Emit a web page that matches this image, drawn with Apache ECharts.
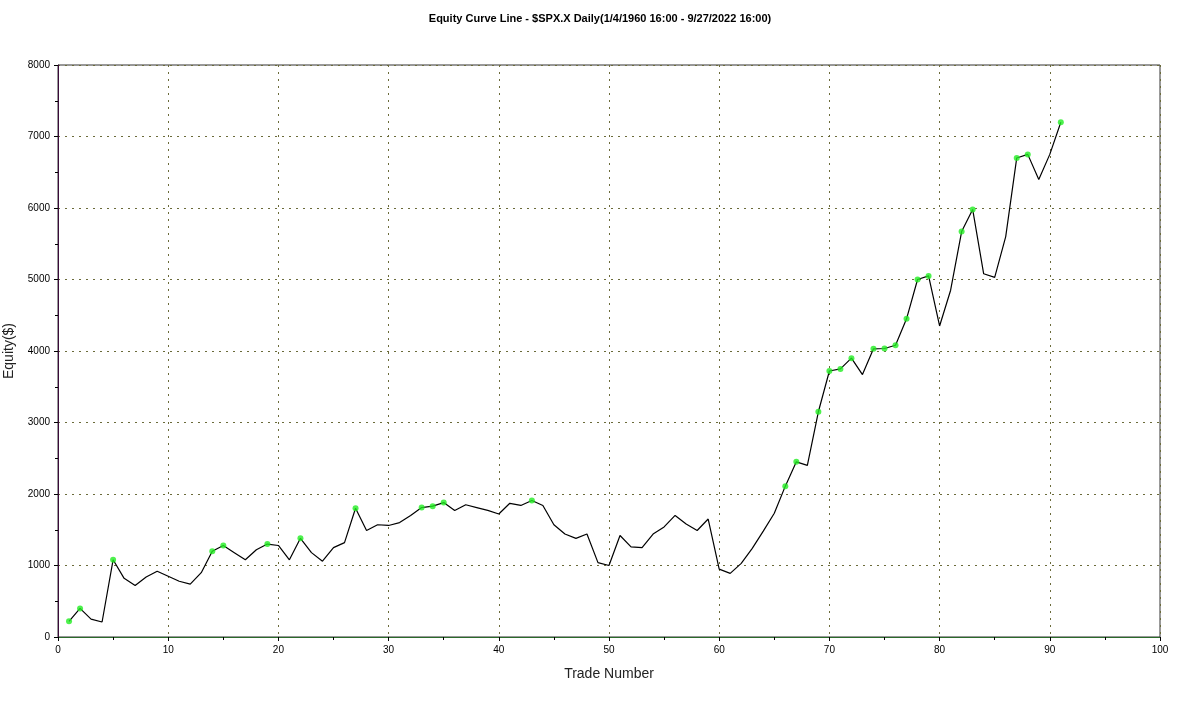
<!DOCTYPE html>
<html lang="en">
<head>
<meta charset="UTF-8">
<title>Equity Curve Line</title>
<script src="https://cdn.jsdelivr.net/npm/echarts@6/dist/echarts.min.js"></script>
<style>
    body{margin:0;background:#fff;}
    #chart{width:1200px;height:704px;}
</style>
</head>
<body>
<div id="chart"></div>
<script>
    // equity after each trade (trade 1..91)
    var equity=[220,400,250,210,1080,820,720,840,920,850,
        780,740,900,1200,1280,1180,1080,1220,1300,1280,
        1080,1380,1180,1060,1250,1320,1800,1490,1570,1560,
        1600,1700,1810,1830,1880,1770,1850,1810,1770,1720,
        1870,1840,1910,1840,1570,1440,1380,1440,1040,1000,
        1420,1260,1250,1440,1540,1700,1580,1490,1650,950,
        890,1030,1240,1480,1730,2110,2450,2400,3150,3720,
        3750,3900,3670,4030,4035,4080,4450,5000,5050,4350,
        4850,5670,5980,5080,5030,5600,6700,6750,6400,6750,
        7200];
    var yTicks=[0,1000,2000,3000,4000,5000,6000,7000,8000];
    var xTicks=[0,10,20,30,40,50,60,70,80,90,100];

    var lineData=equity.map(function(v,i){return [i+1,v];});
    // green dots mark new equity highs
    var highs=[],best=-Infinity;
    equity.forEach(function(v,i){
        if(v>best){best=v;highs.push([i+1,v]);}
    });

    var chart=echarts.init(document.getElementById('chart'));
    chart.setOption({
        animation:false,
        title:{
            text:'Equity Curve Line - $SPX.X Daily(1/4/1960 16:00 - 9/27/2022 16:00)',
            left:'center',top:8,
            textStyle:{fontSize:11,fontWeight:'bold',color:'#000',fontFamily:'Arial, Liberation Sans'}
        },
        grid:{left:58,right:40,top:65,bottom:67,containLabel:false,outerBoundsMode:'none',show:true,borderColor:'#333',borderWidth:1},
        xAxis:{
            type:'value',min:0,max:100,interval:10,
            name:'Trade Number',nameLocation:'center',nameGap:30,
            nameTextStyle:{fontSize:14,color:'#222',fontFamily:'Arial, Liberation Sans'},
            axisLine:{lineStyle:{color:'#2a6a2a'}},
            axisTick:{inside:false,length:4,lineStyle:{color:'#000'}},
            minorTick:{show:true,splitNumber:2,length:3,lineStyle:{color:'#000'}},
            axisLabel:{fontSize:10,color:'#000',formatter:function(v){return xTicks.indexOf(v)>=0?v:'';}},
            splitLine:{show:true,lineStyle:{type:[2,5],color:'#6b6b3a'}}
        },
        yAxis:{
            type:'value',min:0,max:8000,interval:1000,
            name:'Equity($)',nameLocation:'center',nameGap:42,
            nameTextStyle:{fontSize:14,color:'#222',fontFamily:'Arial, Liberation Sans'},
            axisLine:{show:true,lineStyle:{color:'#3a0a3a'}},
            axisTick:{show:true,length:4,lineStyle:{color:'#000'}},
            minorTick:{show:true,splitNumber:2,length:3,lineStyle:{color:'#000'}},
            axisLabel:{fontSize:10,color:'#000',formatter:function(v){return yTicks.indexOf(v)>=0?v:'';}},
            splitLine:{show:true,lineStyle:{type:[2,5],color:'#6b6b3a'}}
        },
        series:[
            {
                type:'line',data:lineData,symbol:'none',
                lineStyle:{color:'#000',width:1.2}
            },
            {
                type:'scatter',data:highs,symbolSize:6,
                itemStyle:{color:'#22ee22'},z:3
            }
        ]
    });
</script>
</body>
</html>
